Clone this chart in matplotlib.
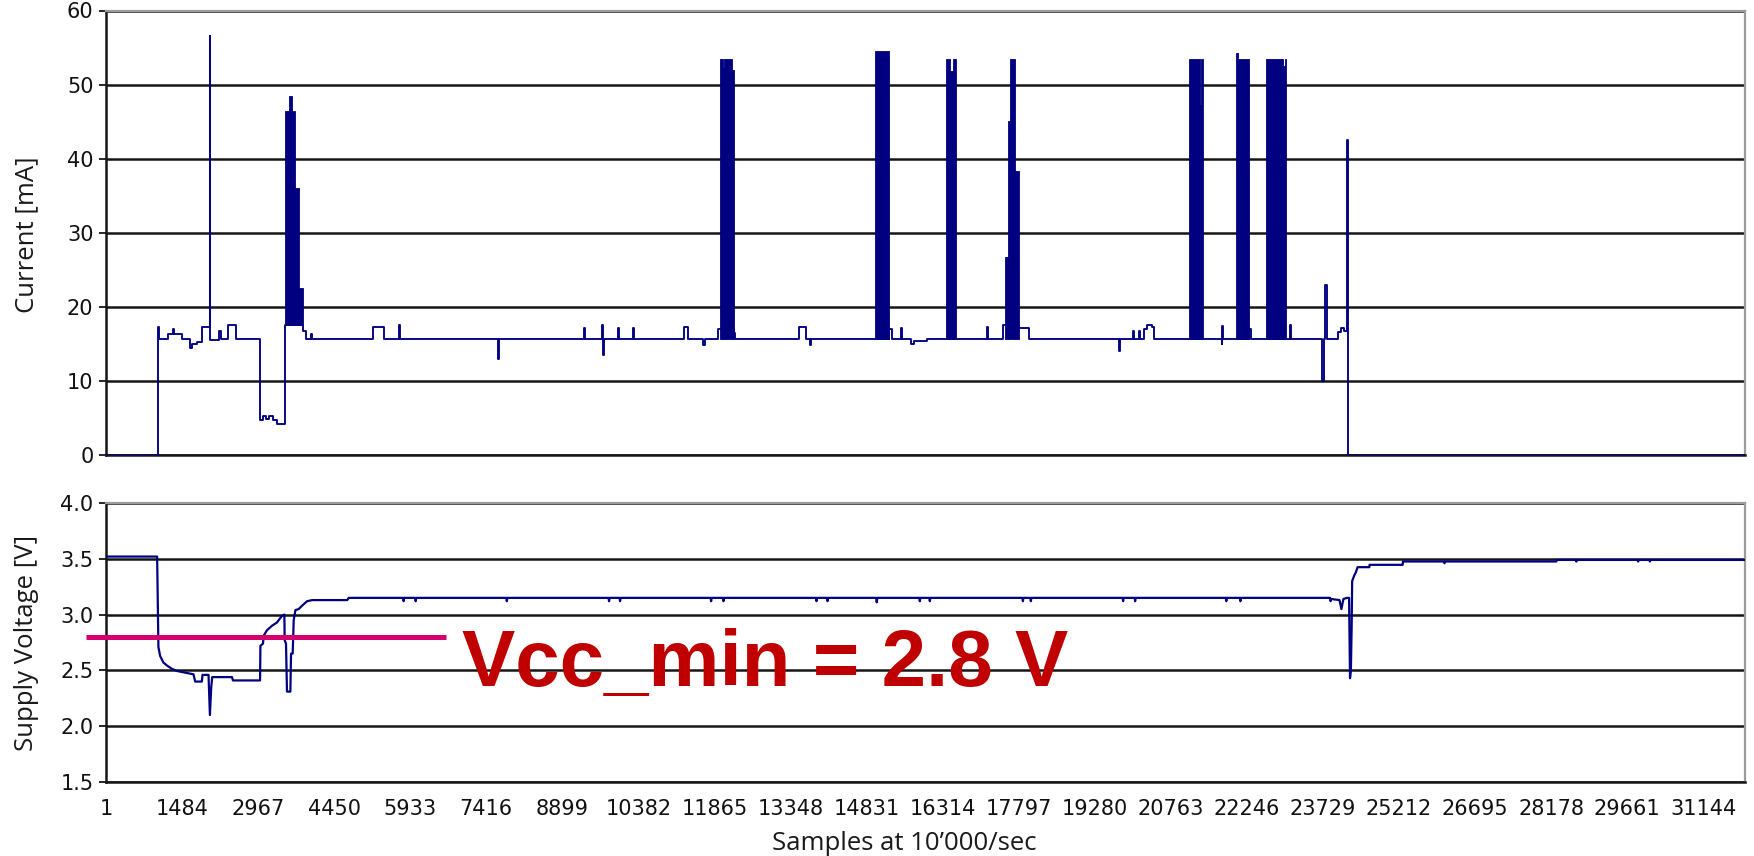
import matplotlib
matplotlib.use("Agg")
import matplotlib.pyplot as plt
import matplotlib.transforms as mtransforms

# ---- current trace (mA), step breakpoints: sample index -> level
cur_samples = [1, 1017, 1040, 1212, 1300, 1330, 1486, 1640, 1680, 1780, 1877,
               2020, 2035, 2210, 2250, 2385, 2541,
               3010, 3060, 3120, 3180, 3250, 3330, 3500, 3840, 3900, 3990, 4010,
               5200, 5414, 5720, 5735, 7650, 7670, 9320, 9335, 9680, 9695, 9715,
               9990, 10005, 10280, 10295, 11275, 11355, 11650, 11680, 11940,
               12240, 12260, 13520, 13650, 13720, 13750, 15260, 15320, 15500,
               15520, 15700, 15760, 16000, 17170, 17190, 17500, 17797, 17992,
               19750, 19780, 20030, 20045, 20150, 20165, 20245, 20290, 20400,
               20440, 21760, 21770, 21790, 22296, 22320, 23090, 23110, 23720,
               23745, 23780, 23800, 24020, 24080, 24150, 24200, 24225, 31960]
cur_ma = [0.0, 17.3, 15.7, 16.3, 17.0, 16.3, 15.7, 14.4, 15.0, 15.3, 17.3,
          56.5, 15.5, 16.8, 15.7, 17.5, 15.7,
          4.7, 5.2, 4.8, 5.2, 4.7, 4.2, 17.5, 16.8, 15.7, 16.4, 15.7,
          17.3, 15.7, 17.5, 15.7, 13.0, 15.7, 17.2, 15.7, 17.5, 13.5, 15.7,
          17.2, 15.7, 17.2, 15.7, 17.3, 15.7, 14.8, 15.7, 17.0,
          16.5, 15.7, 17.3, 15.7, 14.8, 15.7, 17.0, 15.7, 17.2,
          15.7, 15.0, 15.4, 15.7, 17.3, 15.7, 17.5, 17.1, 15.7,
          14.0, 15.7, 16.8, 15.7, 16.8, 15.7, 17.0, 17.6, 17.3,
          15.7, 15.0, 17.4, 15.7, 17.0, 15.7, 17.5, 15.7, 10.0,
          15.7, 23.0, 15.7, 16.6, 17.2, 16.7, 42.5, 0.0, 0.0]

# ---- radio bursts: dense switching drawn as solid blocks (start, end, low, high)
burst_start = [3500, 3570, 3625, 3690, 3760,
               11975, 12040, 12060, 12200,
               14990,
               16376, 16454, 16507,
               17535, 17588, 17634, 17731,
               21124, 21330, 21350,
               22042, 22080,
               22628, 22960, 22990]
burst_end = [3570, 3625, 3690, 3760, 3840,
             12040, 12060, 12200, 12240,
             15260,
             16454, 16507, 16571,
             17588, 17634, 17731, 17797,
             21330, 21350, 21398,
             22080, 22296,
             22960, 22990, 23019]
burst_low = [17.5, 17.5, 17.5, 17.5, 17.5,
             15.7, 15.7, 15.7, 15.7,
             15.7,
             15.7, 15.7, 15.7,
             15.7, 15.7, 15.7, 15.7,
             15.7, 15.7, 15.7,
             15.7, 15.7,
             15.7, 15.7, 15.7]
burst_high = [46.5, 48.5, 46.5, 36.0, 22.5,
              53.4, 52.3, 53.4, 52.0,
              54.6,
              53.4, 51.8, 53.4,
              26.7, 45.1, 53.4, 38.4,
              53.5, 47.2, 53.5,
              54.2, 53.5,
              53.5, 52.5, 53.5]

# ---- supply voltage (V)
volt_samples = [1, 998, 1023, 1056, 1121, 1186, 1284, 1382, 1545, 1707, 1740,
                1870, 1883, 2000, 2027, 2053, 2072, 2457, 2477, 3005, 3012,
                3062, 3075, 3140, 3238, 3336, 3434, 3479, 3485, 3511, 3530,
                3596, 3609, 3641, 3661, 3694, 3759, 3824, 3922, 4020, 4704,
                4735, 5795, 5805, 5815, 6030, 6040, 6050, 7807, 7817, 7827,
                9800, 9810, 9820, 10015, 10025, 10035, 11790, 11800, 11810,
                12030, 12040, 12050, 13845, 13855, 13865, 14060, 14070, 14080,
                15020, 15030, 15040, 15860, 15870, 15880, 16055, 16065, 16075,
                17870, 17880, 17890, 18025, 18035, 18045, 19824, 19834, 19844,
                20058, 20068, 20078, 21836, 21846, 21856, 22110, 22120, 22130,
                23870, 23880, 23890, 24053, 24090, 24130, 24200, 24240, 24258,
                24275, 24290, 24300, 24340, 24373, 24406, 24634, 24640, 25285,
                25290, 26090, 26100, 26110, 28281, 28290, 28662, 28672, 28682,
                29867, 29877, 29887, 30095, 30105, 30115, 31960]
volt_v = [3.52, 3.52, 2.71, 2.63, 2.57, 2.545, 2.515, 2.495, 2.48, 2.465, 2.40,
          2.40, 2.46, 2.46, 2.10, 2.35, 2.44, 2.44, 2.41, 2.41, 2.72,
          2.74, 2.81, 2.86, 2.90, 2.93, 2.99, 3.00, 2.77, 2.74, 2.31,
          2.31, 2.65, 2.65, 2.95, 3.04, 3.05, 3.08, 3.12, 3.13, 3.13,
          3.15, 3.15, 3.12, 3.15, 3.15, 3.12, 3.15, 3.15, 3.12, 3.15,
          3.15, 3.12, 3.15, 3.15, 3.12, 3.15, 3.15, 3.12, 3.15,
          3.15, 3.12, 3.15, 3.15, 3.12, 3.15, 3.15, 3.12, 3.15,
          3.15, 3.11, 3.15, 3.15, 3.12, 3.15, 3.15, 3.12, 3.15,
          3.15, 3.12, 3.15, 3.15, 3.12, 3.15, 3.15, 3.12, 3.15,
          3.15, 3.12, 3.15, 3.15, 3.12, 3.15, 3.15, 3.12, 3.15,
          3.15, 3.12, 3.14, 3.13, 3.05, 3.14, 3.15, 3.15, 2.43,
          2.50, 2.89, 3.30, 3.35, 3.38, 3.425, 3.425, 3.446, 3.446,
          3.476, 3.476, 3.46, 3.476, 3.476, 3.49, 3.49, 3.475, 3.49,
          3.49, 3.475, 3.49, 3.49, 3.475, 3.49, 3.49]

VCC_MIN = 2.8
X_MAX = 31960
x_ticks = list(range(1, 31145, 1483))

NAVY = "#000080"
GRID = "#161616"
FRAME = "#9c9c9c"
TICK_FONT = "DejaVu Sans"
LABEL_FONT = ["Open Sans", "DejaVu Sans"]

W, H = 1754, 856
fig = plt.figure(figsize=(W / 100, H / 100), dpi=100)
fig.patch.set_facecolor("white")

ax_i = fig.add_axes([106 / W, 1 - 455 / H, 1639 / W, 444.5 / H])
ax_v = fig.add_axes([106 / W, 1 - 782 / H, 1639 / W, 279 / H])


def style(ax, yticks):
    ax.set_xlim(1, X_MAX)
    ax.set_yticks(yticks)
    ax.set_ylim(yticks[0], yticks[-1])
    ax.grid(axis="y", color=GRID, lw=1.8, zorder=1)
    ax.set_axisbelow(True)
    for side in ("top", "right"):
        ax.spines[side].set_color(FRAME)
        ax.spines[side].set_linewidth(1.6)
    for side in ("left", "bottom"):
        ax.spines[side].set_color(GRID)
        ax.spines[side].set_linewidth(1.8)
    ax.tick_params(axis="y", direction="out", length=5, width=1.3,
                   color=GRID, pad=4, labelsize=15, labelcolor="#111111")
    ax.tick_params(axis="x", length=0, labelsize=15, pad=12,
                   labelcolor="#111111")
    for lab in ax.get_yticklabels() + ax.get_xticklabels():
        lab.set_fontfamily(TICK_FONT)


# current panel
style(ax_i, [0, 10, 20, 30, 40, 50, 60])
ax_i.set_xticks(x_ticks)
ax_i.set_xticklabels([])
ax_i.plot(cur_samples, cur_ma, drawstyle="steps-post", color=NAVY, lw=1.35,
          zorder=3)
for s, e, lo, hi in zip(burst_start, burst_end, burst_low, burst_high):
    ax_i.fill_between([s, e], lo, hi, color=NAVY, lw=0.6, zorder=3)

# voltage panel
style(ax_v, [1.5, 2.0, 2.5, 3.0, 3.5, 4.0])
ax_v.set_yticklabels([f"{v:.1f}" for v in [1.5, 2.0, 2.5, 3.0, 3.5, 4.0]],
                     fontfamily=TICK_FONT)
ax_v.set_xticks(x_ticks)
ax_v.set_xticklabels([str(t) for t in x_ticks], fontfamily=TICK_FONT)
ax_v.plot(volt_samples, volt_v, color=NAVY, lw=1.6, zorder=3)

# minimum supply threshold marker, sticking out past the y axis
trans = mtransforms.blended_transform_factory(ax_v.transAxes, ax_v.transData)
ax_v.plot([-0.0122, 0.2074], [VCC_MIN, VCC_MIN], transform=trans,
          color="#D4006F", lw=3.6, solid_capstyle="butt", clip_on=False,
          zorder=4)
fig.text(462 / W, 1 - 686 / H, f"Vcc_min = {VCC_MIN} V", ha="left",
         va="baseline", fontsize=57.5, fontweight="bold", color="#C00000",
         family=["Liberation Sans", "DejaVu Sans"])

# axis titles
fig.text(27 / W, 1 - 235 / H, "Current [mA]", rotation=90, ha="center",
         va="center", fontsize=18.5, color="#1a1a1a", family=LABEL_FONT)
fig.text(27 / W, 1 - 643 / H, "Supply Voltage [V]", rotation=90, ha="center",
         va="center", fontsize=18.5, color="#1a1a1a", family=LABEL_FONT)
fig.text(904 / W, 1 - 850 / H, "Samples at 10\u2019000/sec", ha="center",
         va="baseline", fontsize=18.5, color="#1a1a1a", family=LABEL_FONT)

fig.savefig("out.png", dpi=100, facecolor="white")
